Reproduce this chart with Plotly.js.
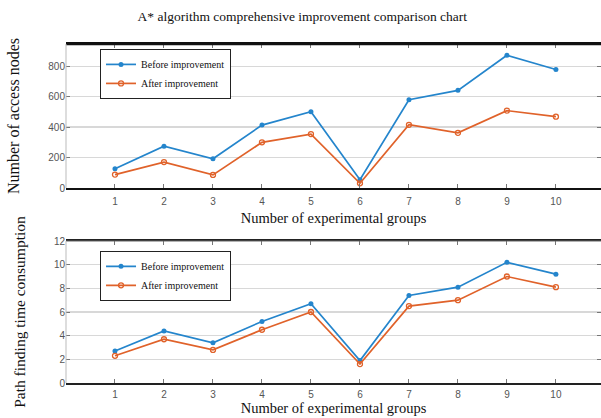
<!DOCTYPE html>
<html>
<head>
<meta charset="utf-8">
<script src="https://cdn.plot.ly/plotly-3.0.1.min.js"></script>
<style>
  html, body { margin: 0; padding: 0; background: #fff; }
  #chart { width: 601px; height: 418px; }
</style>
</head>
<body>
<div id="chart"></div>
<script>
// Experimental groups 1..10
const groups = [1, 2, 3, 4, 5, 6, 7, 8, 9, 10];

// Number of access nodes
const nodesBefore = [126, 274, 192, 413, 501, 55, 579, 641, 871, 778];
const nodesAfter  = [88, 170, 86, 300, 354, 31, 415, 362, 508, 468];

// Path finding time consumption
const timeBefore = [2.7, 4.4, 3.4, 5.2, 6.7, 1.9, 7.4, 8.1, 10.2, 9.2];
const timeAfter  = [2.3, 3.7, 2.8, 4.5, 6.0, 1.6, 6.5, 7.0, 9.0, 8.1];

const seriesNames = ['Before improvement', 'After improvement'];
const blue = '#2485cc';
const orange = '#e0622a';
const serif = 'Liberation Serif';
const sans = 'Liberation Sans';

function lineTrace(y, idx, xa, ya, legend) {
  const color = idx === 0 ? blue : orange;
  return {
    x: groups, y: y, xaxis: xa, yaxis: ya, legend: legend,
    type: 'scatter', mode: 'lines+markers', name: seriesNames[idx],
    line: { color: color, width: 1.7 },
    marker: idx === 0
      ? { symbol: 'circle', size: 5, color: color }
      : { symbol: 'circle-open', size: 5, color: color, line: { width: 1.3, color: color } }
  };
}

const data = [
  lineTrace(nodesBefore, 0, 'x', 'y', 'legend'),
  lineTrace(nodesAfter, 1, 'x', 'y', 'legend'),
  lineTrace(timeBefore, 0, 'x2', 'y2', 'legend2'),
  lineTrace(timeAfter, 1, 'x2', 'y2', 'legend2')
];

const xCommon = {
  range: [0, 10.92], tickvals: groups, ticktext: groups.map(String),
  ticks: 'inside', ticklen: 4, tickcolor: '#777', tickwidth: 1,
  showgrid: false, zeroline: false,
  tickfont: { family: sans, size: 10, color: '#555' }
};
const yCommon = {
  ticks: 'inside', ticklen: 4, tickcolor: '#777', tickwidth: 1, mirror: 'ticks',
  showline: false, gridcolor: '#d8d8d8', gridwidth: 1.2, zeroline: false,
  tickfont: { family: sans, size: 10, color: '#555' }
};
const legendCommon = {
  x: 0.0636, xanchor: 'left', yanchor: 'top',
  bgcolor: '#fff', bordercolor: '#222', borderwidth: 1,
  font: { family: serif, size: 10, color: '#111' },
  tracegroupgap: 0, itemwidth: 30
};

const layout = {
  width: 601, height: 418,
  margin: { l: 66, r: 0, t: 0, b: 0 },
  paper_bgcolor: '#fff', plot_bgcolor: '#fff',
  showlegend: true,
  title: {
    text: 'A* algorithm comprehensive improvement comparison chart',
    font: { family: serif, size: 13.5, color: '#111' },
    x: 0.503, xanchor: 'center', y: 0.96, yanchor: 'middle'
  },
  xaxis: Object.assign({}, xCommon, {
    anchor: 'y', showline: true, linecolor: '#111', linewidth: 2, mirror: 'ticks',
    ticklabelstandoff: 3,
    title: { text: 'Number of experimental groups', font: { family: serif, size: 14.5, color: '#111' }, standoff: 7 }
  }),
  yaxis: Object.assign({}, yCommon, {
    domain: [0.5502, 0.8947], range: [0, 945], tickvals: [0, 200, 400, 600, 800],
    title: { text: 'Number of access nodes', font: { family: serif, size: 16, color: '#111' }, standoff: 24 }
  }),
  xaxis2: Object.assign({}, xCommon, {
    anchor: 'y2', showline: true, linecolor: '#222', linewidth: 1.6, mirror: 'ticks',
    ticklabelstandoff: 1,
    title: { text: 'Number of experimental groups', font: { family: serif, size: 14.5, color: '#111' }, standoff: 1 }
  }),
  yaxis2: Object.assign({}, yCommon, {
    domain: [0.0837, 0.4234], range: [0, 12], tickvals: [0, 2, 4, 6, 8, 10, 12],
    title: { text: 'Path finding time consumption', font: { family: serif, size: 15.5, color: '#111' }, standoff: 24 }
  }),
  legend: Object.assign({}, legendCommon, { y: 0.883 }),
  legend2: Object.assign({}, legendCommon, { y: 0.400 }),
  shapes: [
    // box outline of the upper panel
    { type: 'line', xref: 'x domain', yref: 'y domain', x0: 0, x1: 1, y0: 1, y1: 1, line: { color: '#111', width: 2.4 } },
    { type: 'line', xref: 'x domain', yref: 'y domain', x0: 0, x1: 0, y0: 0, y1: 1, line: { color: '#bbb', width: 1 } },
    // box outline of the lower panel
    { type: 'line', xref: 'x2 domain', yref: 'y2 domain', x0: 0, x1: 1, y0: 1, y1: 1, line: { color: '#666', width: 1.2 } },
    { type: 'line', xref: 'x2 domain', yref: 'y2 domain', x0: 0, x1: 0, y0: 0, y1: 1, line: { color: '#bbb', width: 1 } }
  ]
};

Plotly.newPlot('chart', data, layout, { displayModeBar: false, staticPlot: true });
</script>
</body>
</html>
